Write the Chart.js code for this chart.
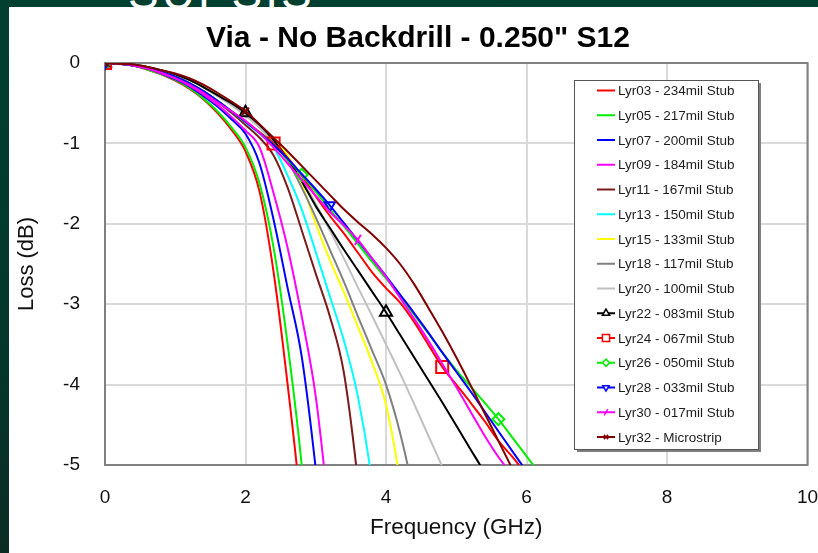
<!DOCTYPE html>
<html>
<head>
<meta charset="utf-8">
<script src="https://cdn.jsdelivr.net/npm/chart.js@4.4.1/dist/chart.umd.min.js"></script>
<style>
  html, body { margin: 0; padding: 0; }
  body {
    width: 818px; height: 553px; overflow: hidden; position: relative;
    background: linear-gradient(180deg, #013f30 0%, #03382b 60%, #0c2b23 100%);
  }
  .slide-head {
    position: absolute; left: 128px; top: -34px;
    font: 46px 'Liberation Sans', Arial, sans-serif; color: #fff; letter-spacing: 3px;
  }
  .panel { position: absolute; left: 9px; top: 7px; right: 0; bottom: 0; background: #fff; }
  #chart { position: absolute; left: 0; top: 0; }
</style>
</head>
<body>
<div class="slide-head">SUPSIS</div>
<div class="panel"></div>
<canvas id="chart" width="818" height="553"></canvas>
<script>
// frequency points (GHz)
const freq = [0, 0.2, 0.4, 0.6, 0.8, 1.0, 1.2, 1.4, 1.6, 1.8, 2.0, 2.2, 2.4, 2.6, 2.8, 3.0,
              3.2, 3.4, 3.6, 3.8, 4.0, 4.2, 4.4, 4.6, 4.8, 5.0, 5.2, 5.4, 5.6, 5.8, 6.0, 6.2, 6.4];

// S12 loss (dB) per layer
const lyr03 = [0, -0.01, -0.03, -0.08, -0.14, -0.22, -0.32, -0.45, -0.62, -0.83, -1.1, -1.6, -2.6, -4.0, -5.6, -7.5];
const lyr05 = [0, -0.01, -0.03, -0.08, -0.14, -0.21, -0.31, -0.44, -0.6, -0.8, -1.05, -1.5, -2.3, -3.5, -5.0, -7.0];
const lyr07 = [0, -0.01, -0.03, -0.07, -0.13, -0.2, -0.29, -0.41, -0.54, -0.7, -0.88, -1.25, -1.95, -2.8, -3.65, -5.05, -6.8];
const lyr09 = [0, -0.01, -0.03, -0.07, -0.13, -0.19, -0.28, -0.39, -0.52, -0.67, -0.84, -1.05, -1.62, -2.3, -3.15, -4.15, -5.7, -7.5];
const lyr11 = [0, -0.01, -0.03, -0.07, -0.12, -0.18, -0.26, -0.36, -0.48, -0.62, -0.77, -0.93, -1.15, -1.55, -2.08, -2.62, -3.15, -3.85, -5.2, -7.0];
const lyr13 = [0, -0.01, -0.03, -0.06, -0.11, -0.17, -0.25, -0.35, -0.47, -0.6, -0.74, -0.88, -1.05, -1.4, -1.82, -2.35, -2.9, -3.45, -4.15, -5.2, -6.8];
const lyr15 = [0, -0.01, -0.02, -0.05, -0.09, -0.14, -0.21, -0.3, -0.4, -0.5, -0.62, -0.77, -0.96, -1.15, -1.5, -2.0, -2.45, -2.85, -3.28, -3.72, -4.25, -5.2, -6.5];
const lyr18 = [0, -0.01, -0.02, -0.05, -0.09, -0.14, -0.21, -0.3, -0.41, -0.52, -0.65, -0.8, -0.98, -1.22, -1.55, -1.92, -2.32, -2.72, -3.15, -3.57, -4.0, -4.6, -5.4, -6.5];
const lyr20 = [0, -0.01, -0.02, -0.05, -0.09, -0.14, -0.21, -0.3, -0.41, -0.52, -0.65, -0.8, -0.98, -1.2, -1.45, -1.75, -2.08, -2.43, -2.79, -3.14, -3.5, -3.86, -4.24, -4.63, -5.02, -5.45];
const lyr22 = [0, -0.01, -0.02, -0.05, -0.09, -0.14, -0.21, -0.3, -0.4, -0.5, -0.62, -0.77, -0.96, -1.19, -1.47, -1.78, -2.05, -2.32, -2.58, -2.84, -3.1, -3.38, -3.66, -3.94, -4.22, -4.51, -4.8, -5.09, -5.4];
const lyr24 = [0, -0.01, -0.03, -0.06, -0.11, -0.17, -0.25, -0.35, -0.47, -0.6, -0.73, -0.86, -1.0, -1.18, -1.4, -1.66, -1.9, -2.12, -2.36, -2.6, -2.8, -2.98, -3.22, -3.5, -3.78, -4.0, -4.22, -4.45, -4.7, -4.9, -5.12];
const lyr26 = [0, -0.01, -0.03, -0.06, -0.11, -0.17, -0.25, -0.35, -0.47, -0.6, -0.73, -0.87, -1.02, -1.2, -1.39, -1.6, -1.82, -2.03, -2.25, -2.47, -2.68, -2.9, -3.13, -3.36, -3.6, -3.82, -4.02, -4.22, -4.43, -4.66, -4.89, -5.12, -5.35];
const lyr28 = [0, -0.01, -0.03, -0.06, -0.11, -0.17, -0.25, -0.35, -0.47, -0.6, -0.73, -0.87, -1.02, -1.19, -1.38, -1.57, -1.77, -1.99, -2.21, -2.43, -2.65, -2.88, -3.11, -3.35, -3.6, -3.84, -4.08, -4.33, -4.58, -4.83, -5.08, -5.33];
const lyr30 = [0, -0.01, -0.03, -0.07, -0.12, -0.19, -0.27, -0.37, -0.49, -0.6, -0.72, -0.87, -1.05, -1.25, -1.45, -1.65, -1.85, -2.02, -2.2, -2.43, -2.66, -2.92, -3.18, -3.45, -3.74, -4.03, -4.33, -4.63, -4.9, -5.13, -5.4];
const lyr32 = [0, -0.01, -0.02, -0.05, -0.09, -0.13, -0.19, -0.27, -0.37, -0.48, -0.6, -0.76, -0.93, -1.1, -1.28, -1.46, -1.64, -1.82, -1.98, -2.13, -2.3, -2.5, -2.75, -3.04, -3.34, -3.66, -4.0, -4.35, -4.7, -5.05, -5.4];

const seriesLabels = [
    'Lyr03 - 234mil Stub', 'Lyr05 - 217mil Stub', 'Lyr07 - 200mil Stub', 'Lyr09 - 184mil Stub',
    'Lyr11 - 167mil Stub', 'Lyr13 - 150mil Stub', 'Lyr15 - 133mil Stub', 'Lyr18 - 117mil Stub',
    'Lyr20 - 100mil Stub', 'Lyr22 - 083mil Stub', 'Lyr24 - 067mil Stub', 'Lyr26 - 050mil Stub',
    'Lyr28 - 033mil Stub', 'Lyr30 - 017mil Stub', 'Lyr32 - Microstrip',
];
const seriesValues = [lyr03, lyr05, lyr07, lyr09, lyr11, lyr13, lyr15, lyr18,
                      lyr20, lyr22, lyr24, lyr26, lyr28, lyr30, lyr32];

const lineColors = [
    '#ff0000', '#00ee00', '#0000ff', '#ff00ff', '#7a1c1c', '#00ffff', '#ffff00', '#808080',
    '#c0c0c0', '#000000', '#ff0000', '#00ee00', '#0000ff', '#ff00ff', '#800000',
];

// marker style per series (only the last six carry markers)
const markerStyles = {
    9:  { style: 'triangle', rot: 0,   r: 7,   at: [0, 10, 20] },
    10: { style: 'rect',     rot: 0,   r: 8.5, at: [0, 12, 24] },
    11: { style: 'rectRot',  rot: 0,   r: 6,   at: [0, 14, 28] },
    12: { style: 'triangle', rot: 180, r: 6,   at: [0, 16] },
    13: { style: 'line',     rot: -60, r: 6,   at: [0, 18] },
    14: { style: 'crossRot', rot: 0,   r: 5,   at: [0, 10] },
};

const FONT = "'Liberation Sans', Arial, sans-serif";
const TITLE = 'Via - No Backdrill - 0.250" S12';

const datasets = seriesValues.map((vals, i) => {
    const m = markerStyles[i];
    return {
        label: seriesLabels[i],
        data: vals,
        borderColor: lineColors[i],
        backgroundColor: lineColors[i],
        borderWidth: 2,
        cubicInterpolationMode: 'monotone',
        pointStyle: m ? m.style : 'circle',
        rotation: m ? m.rot : 0,
        pointRadius: m ? (c => m.at.includes(c.dataIndex) ? m.r : 0) : 0,
        pointBorderWidth: 2,
        pointBorderColor: lineColors[i],
        pointBackgroundColor: 'rgba(0,0,0,0)',
        order: 20 - i,
    };
});

// title is offset a little right of the canvas centre, as on the slide
const chartTitle = {
    id: 'chartTitle',
    afterDraw(chart) {
        const ctx = chart.ctx;
        ctx.save();
        ctx.fillStyle = '#000';
        ctx.font = 'bold 30px ' + FONT;
        ctx.textAlign = 'center';
        ctx.textBaseline = 'middle';
        ctx.fillText(TITLE, 418, 39);
        ctx.restore();
    }
};

const plotFrame = {
    id: 'plotFrame',
    beforeDatasetsDraw(chart) {
        const { ctx, chartArea: a } = chart;
        ctx.save();
        ctx.strokeStyle = '#808080';
        ctx.lineWidth = 2;
        ctx.strokeRect(a.left, a.top, a.right - a.left, a.bottom - a.top);
        ctx.restore();
    }
};

// legend box sitting inside the plot area
const legendBox = {
    id: 'legendBox',
    afterDatasetsDraw(chart) {
        const ctx = chart.ctx;
        const x = 574, y = 80, w = 184, h = 369;
        ctx.save();
        ctx.fillStyle = '#808080';
        ctx.fillRect(x + 3, y + 3, w, h);
        ctx.fillStyle = '#ffffff';
        ctx.fillRect(x, y, w, h);
        ctx.strokeStyle = '#555555';
        ctx.lineWidth = 1;
        ctx.strokeRect(x + 0.5, y + 0.5, w, h);
        chart.data.datasets.forEach((ds, i) => {
            const cy = 90.5 + i * 24.75;
            ctx.strokeStyle = ds.borderColor;
            ctx.lineWidth = 2;
            ctx.beginPath();
            ctx.moveTo(597, cy);
            ctx.lineTo(615, cy);
            ctx.stroke();
            const m = markerStyles[i];
            if (m && Chart.helpers && Chart.helpers.drawPoint) {
                ctx.fillStyle = '#ffffff';
                ctx.lineWidth = 1.5;
                Chart.helpers.drawPoint(ctx, {
                    pointStyle: m.style, rotation: m.rot, radius: m.r * 0.6, borderWidth: 1.5,
                }, 606, cy);
            }
            ctx.fillStyle = '#1e1e1e';
            ctx.font = '13.5px ' + FONT;
            ctx.textAlign = 'left';
            ctx.textBaseline = 'middle';
            ctx.fillText(ds.label, 618, cy + 1);
        });
        ctx.restore();
    }
};

new Chart(document.getElementById('chart'), {
    type: 'line',
    data: { labels: freq, datasets },
    options: {
        responsive: false,
        animation: false,
        layout: { padding: { left: 0, right: 8, top: 63, bottom: 0 } },
        plugins: {
            legend: { display: false },
            tooltip: { enabled: false },
            title: { display: false },
        },
        scales: {
            x: {
                type: 'linear',
                min: 0, max: 10,
                ticks: { stepSize: 2, color: '#111', font: { family: FONT, size: 19 }, padding: 21, maxRotation: 0 },
                grid: { color: '#d9d9d9', lineWidth: 2, drawTicks: false },
                border: { display: false },
                title: {
                    display: true, text: 'Frequency (GHz)', color: '#111',
                    font: { family: FONT, size: 22.5 }, padding: { top: 0, bottom: 11.5 },
                },
                afterFit: (s) => { s.height = 88; s.paddingLeft = 0; s.paddingRight = 0; },
            },
            y: {
                min: -5, max: 0,
                ticks: { stepSize: 1, color: '#111', font: { family: FONT, size: 19 }, padding: 25 },
                grid: { color: '#d9d9d9', lineWidth: 2, drawTicks: false },
                border: { display: false },
                title: {
                    display: true, text: 'Loss (dB)', color: '#111',
                    font: { family: FONT, size: 22 }, padding: { top: 14, bottom: 0 },
                },
                afterFit: (s) => { s.width = 105; s.paddingTop = 0; s.paddingBottom = 0; },
            },
        },
    },
    plugins: [plotFrame, legendBox, chartTitle],
});
</script>
</body>
</html>
